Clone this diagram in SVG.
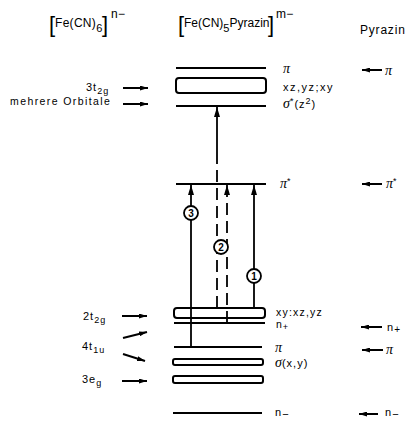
<svg xmlns="http://www.w3.org/2000/svg" width="409" height="422" viewBox="0 0 409 422">
<defs>
<marker id="ah" viewBox="0 0 10 6" refX="10" refY="3" markerWidth="10" markerHeight="6" markerUnits="userSpaceOnUse" orient="auto">
<path d="M0,0 L10,3 L0,6 Z" fill="#000"/>
</marker>
<marker id="sh" viewBox="0 0 8 5" refX="8" refY="2.5" markerWidth="8" markerHeight="5" markerUnits="userSpaceOnUse" orient="auto">
<path d="M0,0 L8,2.5 L0,5 Z" fill="#000"/>
</marker>
<style>
text{font-family:"Liberation Sans",Arial,sans-serif;font-size:11px;fill:#000;letter-spacing:1px}
.h{font-size:12px;letter-spacing:0.3px}
.br{font-size:22px;letter-spacing:0}
.pi{font-family:"Liberation Serif","DejaVu Serif",serif;font-style:italic;font-size:14px;letter-spacing:0}
.sub{font-size:9px}
.lv{stroke:#000;stroke-width:2;fill:none}
.bx{stroke:#000;stroke-width:2;fill:#fff}
.tr{stroke:#000;stroke-width:1.8;fill:none}
.da{stroke-dasharray:12 6}
.ar{stroke:#000;stroke-width:2;fill:none;marker-end:url(#sh)}
.c{fill:#fff;stroke:#000;stroke-width:1.8}
.cn{font-size:10px;font-weight:bold;text-anchor:middle;letter-spacing:0}
</style>
</defs>
<rect width="409" height="422" fill="#fff"/>

<g id="headings">
<text class="br" x="49" y="32">[</text>
<text class="h" x="55" y="27">Fe(CN)<tspan dy="5" font-size="11">6</tspan></text>
<text class="br" x="102" y="32">]</text>
<text class="h" x="111" y="18">n−</text>

<text class="br" x="178" y="32">[</text>
<text class="h" x="184" y="27" style="letter-spacing:0">Fe(CN)<tspan dy="5" font-size="11">5</tspan><tspan dy="-5">Pyrazin</tspan></text>
<text class="br" x="268" y="32">]</text>
<text class="h" x="276" y="18">m−</text>

<text class="h" x="360" y="34" style="letter-spacing:0.8px">Pyrazin</text>
</g>

<g id="levels">
<g id="lv-pi-top"><line class="lv" x1="176" y1="68" x2="266" y2="68"/><text class="pi" x="283" y="73">π</text></g>
<g id="lv-3t2g"><rect class="bx" x="176" y="78" width="90" height="15" rx="3"/><text x="283" y="91" style="letter-spacing:1.5px">xz,yz;xy</text></g>
<g id="lv-sigma-star"><line class="lv" x1="176" y1="106" x2="266" y2="106"/><text x="283" y="108"><tspan class="pi" font-size="13">σ</tspan><tspan dy="-4" font-size="9">*</tspan><tspan dy="4">(z</tspan><tspan dy="-4" font-size="9">2</tspan><tspan dy="4">)</tspan></text></g>
<g id="lv-pi-star"><line class="lv" x1="176" y1="184" x2="266" y2="184"/><text x="280" y="188"><tspan class="pi">π</tspan><tspan dy="-4" font-size="9">*</tspan></text></g>
<g id="lv-2t2g"><rect class="bx" x="174" y="308" width="91" height="10" rx="3"/><text x="276" y="316" style="letter-spacing:1.2px;font-size:10.5px">xy:xz,yz</text></g>
<g id="lv-nplus"><line class="lv" x1="174" y1="323" x2="265" y2="323"/><text x="276" y="328" style="font-size:10.5px">n<tspan dy="2" font-size="9">+</tspan></text></g>
<g id="lv-pi"><line class="lv" x1="174" y1="347" x2="262" y2="347"/><text class="pi" x="275" y="352">π</text></g>
<g id="lv-sigma-xy"><rect class="bx" x="173" y="359" width="90" height="6" rx="2"/><text x="275" y="367"><tspan class="pi" font-size="13">σ</tspan>(x,y)</text></g>
<g id="lv-3eg"><rect class="bx" x="173" y="376" width="90" height="7" rx="2"/></g>
<g id="lv-nminus"><line class="lv" x1="173" y1="413" x2="262" y2="413"/><text x="275" y="416">n<tspan dy="2">−</tspan></text></g>
</g>

<g id="left-labels">
<text x="86" y="91">3t<tspan class="sub" dy="3">2g</tspan></text>
<text x="10" y="105" style="letter-spacing:1.4px;font-size:10.5px">mehrere Orbitale</text>
<text x="83" y="320">2t<tspan class="sub" dy="3">2g</tspan></text>
<text x="82" y="350">4t<tspan class="sub" dy="3">1u</tspan></text>
<text x="82" y="383">3e<tspan class="sub" dy="3">g</tspan></text>
</g>

<g id="right-labels">
<text class="pi" x="385" y="75">π</text>
<text x="386" y="188"><tspan class="pi">π</tspan><tspan dy="-4" font-size="9">*</tspan></text>
<text x="387" y="331">n<tspan dy="2" font-size="10">+</tspan></text>
<text class="pi" x="386" y="354">π</text>
<text x="385" y="416">n<tspan dy="2">−</tspan></text>
</g>

<g id="connectors">
<line class="ar" x1="123" y1="88" x2="148" y2="88"/>
<line class="ar" x1="123" y1="104" x2="148" y2="104"/>
<line class="ar" x1="122" y1="316" x2="147" y2="316"/>
<line class="ar" x1="123" y1="338" x2="147" y2="332"/>
<line class="ar" x1="123" y1="354" x2="145" y2="361"/>
<line class="ar" x1="122" y1="381" x2="147" y2="381"/>

<line class="ar" x1="382" y1="70" x2="362" y2="70"/>
<line class="ar" x1="382" y1="184" x2="362" y2="184"/>
<line class="ar" x1="382" y1="327" x2="361" y2="327"/>
<line class="ar" x1="383" y1="350" x2="362" y2="350"/>
<line class="ar" x1="378" y1="414" x2="359" y2="414"/>

<line class="tr" x1="191" y1="347" x2="191" y2="185" marker-end="url(#ah)"/>
<line class="tr" x1="217" y1="152" x2="217" y2="107" marker-end="url(#ah)"/>
<line class="tr da" x1="217" y1="308" x2="217" y2="152"/>
<line class="tr da" x1="227" y1="323" x2="227" y2="196"/>
<line class="tr" x1="227" y1="196" x2="227" y2="185" marker-end="url(#ah)"/>
<line class="tr" x1="254" y1="308" x2="254" y2="185" marker-end="url(#ah)"/>
</g>

<g id="labels-transitions">
<g id="t3"><circle class="c" cx="191" cy="213" r="7"/><text class="cn" x="191" y="216.5">3</text></g>
<g id="t2"><circle class="c" cx="221" cy="247" r="7"/><text class="cn" x="221" y="250.5">2</text></g>
<g id="t1"><circle class="c" cx="254" cy="276" r="7"/><text class="cn" x="254" y="279.5">1</text></g>
</g>
</svg>
